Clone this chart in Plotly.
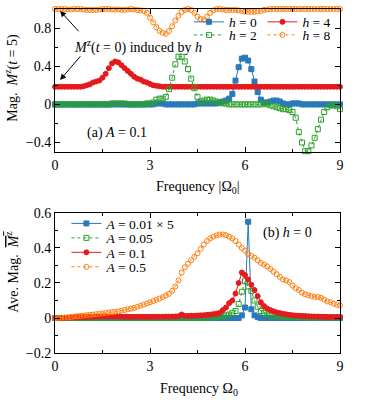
import numpy as np
import plotly.graph_objects as go

# frequency grid (Omega_0), step 0.1
omega = np.round(np.arange(0, 9.05, 0.1), 1)

# (a) A = 0.1, magnetisation M^z(t=5) for different h
mag_h0 = [0.0,0.0,0.0,0.0,0.0,0.0,0.0,0.0,0.0,0.0,
          0.0,0.0,0.0,0.0,0.0,0.0,0.0,0.0,0.0,0.0,
          0.0,0.0,0.0,0.0,0.0,0.0,0.0,0.0,0.0,0.0,
          0.0,0.0,0.01,0.01,0.01,0.0,0.0,0.0,0.0,0.0,
          0.0,0.0,0.0,0.0,0.0,0.01,0.01,0.01,0.01,0.01,
          0.01,0.01,0.02,0.03,0.04,0.06,0.11,0.25,0.39,0.48,
          0.49,0.46,0.37,0.24,0.13,0.05,0.02,0.02,0.03,0.04,
          0.04,0.03,0.01,0.0,0.0,0.01,0.01,0.01,0.0,0.0,
          0.0,0.0,0.0,0.0,0.0,0.0,0.0,0.0,0.0,0.0,0.0]
mag_h2 = [0.0,0.0,0.0,0.0,0.0,0.0,0.0,0.0,0.0,0.0,
          0.0,0.0,0.0,0.0,0.0,0.0,0.0,0.0,0.01,0.01,
          0.01,0.01,0.01,0.0,0.0,0.0,0.0,0.0,0.0,0.01,
          0.01,0.02,0.05,0.06,0.06,0.08,0.16,0.28,0.42,0.50,
          0.50,0.45,0.37,0.27,0.17,0.08,0.03,0.04,0.05,0.05,
          0.04,0.03,0.02,0.01,0.01,0.0,0.0,0.0,0.0,0.0,
          0.0,0.0,0.0,0.0,0.0,0.0,0.01,0.0,-0.01,-0.02,
          -0.03,-0.04,-0.05,-0.05,-0.06,-0.08,-0.14,-0.29,-0.40,-0.49,
          -0.49,-0.43,-0.35,-0.26,-0.16,-0.08,-0.03,-0.01,-0.01,-0.02,-0.05]
mag_h4 = [0.185,0.185,0.185,0.185,0.185,0.185,0.185,0.185,0.185,0.19,
          0.20,0.21,0.23,0.24,0.25,0.28,0.32,0.38,0.43,0.45,
          0.44,0.41,0.38,0.35,0.32,0.29,0.27,0.26,0.24,0.23,
          0.215,0.20,0.195,0.19,0.185,0.185,0.185,0.185,0.185,0.185,
          0.185,0.185,0.185,0.185,0.185,0.185,0.185,0.185,0.185,0.185,
          0.185,0.185,0.185,0.185,0.185,0.185,0.185,0.185,0.185,0.185,
          0.185,0.185,0.185,0.185,0.185,0.185,0.185,0.185,0.185,0.185,
          0.185,0.185,0.185,0.185,0.185,0.185,0.185,0.185,0.185,0.185,
          0.185,0.185,0.185,0.185,0.185,0.185,0.185,0.185,0.185,0.185,0.185]
mag_h8 = [1.0,1.0,1.0,1.0,0.995,0.995,1.0,1.0,1.0,0.995,
          0.99,0.99,0.99,0.99,0.995,1.0,1.0,1.0,0.995,0.995,
          0.995,0.99,0.99,0.995,1.0,0.995,0.99,0.985,0.98,0.96,
          0.91,0.86,0.81,0.77,0.75,0.74,0.77,0.82,0.88,0.93,
          0.97,0.99,1.0,0.99,0.96,0.92,0.895,0.89,0.92,0.96,
          0.985,1.0,1.0,0.995,0.99,0.99,0.99,0.99,0.985,0.98,
          0.975,0.97,0.97,0.97,0.975,0.98,0.99,0.995,1.0,1.0,
          1.0,1.0,1.0,1.0,1.0,1.0,1.0,1.0,1.0,1.0,
          1.0,1.0,1.0,1.0,1.0,1.0,1.0,1.0,1.0,1.0,1.0]

# (b) h = 0, averaged magnetisation for different A
ave_a001 = [0.0]*59 + [0.015,0.06,0.55,0.05,0.015,0.005] + [0.0]*26
ave_a005 = [0.0]*50 + [0.005,0.006,0.008,0.01,0.015,0.02,0.03,0.04,0.08,0.15,
            0.21,0.18,0.155,0.10,0.065,0.04,0.03,0.02,0.015,0.012,
            0.01,0.009,0.008,0.007,0.006,0.005,0.005,0.004,0.004,0.004,
            0.003,0.003,0.003,0.003,0.003,0.003,0.003,0.003,0.003,0.003,0.003]
ave_a01 = [0.0,0.0,0.0,0.0,0.002,0.003,0.004,0.005,0.005,0.006,
           0.006,0.007,0.007,0.008,0.008,0.008,0.008,0.008,0.008,0.008,
           0.008,0.008,0.007,0.007,0.007,0.007,0.007,0.007,0.007,0.007,
           0.007,0.007,0.007,0.007,0.007,0.008,0.008,0.008,0.009,0.01,
           0.02,0.012,0.012,0.013,0.013,0.014,0.015,0.016,0.018,0.02,
           0.022,0.025,0.03,0.045,0.06,0.085,0.10,0.14,0.20,0.26,
           0.245,0.22,0.19,0.16,0.125,0.09,0.068,0.054,0.045,0.038,
           0.032,0.028,0.024,0.021,0.018,0.016,0.014,0.013,0.012,0.011,
           0.01,0.009,0.008,0.008,0.007,0.007,0.006,0.006,0.005,0.005,0.005]
ave_a05 = [0.0,0.0,0.001,0.002,0.003,0.005,0.008,0.01,0.012,0.014,
           0.016,0.018,0.02,0.022,0.024,0.026,0.028,0.031,0.034,0.036,
           0.038,0.042,0.046,0.05,0.053,0.058,0.064,0.07,0.076,0.083,
           0.09,0.097,0.104,0.111,0.119,0.128,0.138,0.155,0.18,0.215,
           0.26,0.29,0.31,0.33,0.35,0.37,0.395,0.42,0.44,0.455,
           0.465,0.472,0.477,0.477,0.473,0.465,0.455,0.44,0.42,0.40,
           0.385,0.365,0.355,0.345,0.33,0.315,0.305,0.295,0.28,0.265,
           0.25,0.235,0.22,0.215,0.205,0.185,0.17,0.16,0.145,0.135,
           0.13,0.125,0.12,0.12,0.115,0.105,0.095,0.09,0.082,0.076,0.072]

bot_yticks = [-0.2, 0, 0.2, 0.4, 0.6]
bot_yticktext = ['−0.2', '0', '0.2', '0.4', '0.6']
xticks = [0, 3, 6, 9]

blue = '#2a7ab9'
green = '#2ca02c'
red = '#e41a1c'
orange = '#ff7f0e'
FONT = 'Liberation Serif'

fig = go.Figure()

top = [
    (mag_h0, '<i>h</i> = 0', blue, 'square', 'solid', 'legend'),
    (mag_h4, '<i>h</i> = 4', red, 'circle', 'solid', 'legend2'),
    (mag_h2, '<i>h</i> = 2', green, 'square-open', 'dot', 'legend3'),
    (mag_h8, '<i>h</i> = 8', orange, 'circle-open', 'dot', 'legend4'),
]
for vals, name, col, sym, dash, leg in top:
    fig.add_trace(go.Scatter(x=omega, y=vals, name=name, mode='lines+markers',
                             line=dict(color=col, width=1, dash=dash),
                             marker=dict(symbol=sym, size=5, color=col, line=dict(color=col, width=1)),
                             cliponaxis=False, legend=leg, xaxis='x', yaxis='y'))

bottom = [
    (ave_a001, '<i>A</i> = 0.01 × 5', blue, 'square', 'solid', 'legend5'),
    (ave_a005, '<i>A</i> = 0.05', green, 'square-open', 'dot', 'legend6'),
    (ave_a01, '<i>A</i> = 0.1', red, 'circle', 'solid', 'legend7'),
    (ave_a05, '<i>A</i> = 0.5', orange, 'circle-open', 'dot', 'legend8'),
]
for vals, name, col, sym, dash, leg in bottom:
    fig.add_trace(go.Scatter(x=omega, y=vals, name=name, mode='lines+markers',
                             line=dict(color=col, width=1, dash=dash),
                             marker=dict(symbol=sym, size=5, color=col, line=dict(color=col, width=1)),
                             cliponaxis=False, legend=leg, xaxis='x2', yaxis='y2'))

ax = dict(showgrid=False, zeroline=False, showline=True, linecolor='black', linewidth=1,
          mirror='ticks', ticks='inside', ticklen=5, tickcolor='black', automargin=False,
          tickfont=dict(family=FONT, size=14, color='black'))


def minor(step):
    return dict(tickmode='linear', tick0=0, dtick=step, ticks='inside', ticklen=3, tickcolor='black')


fig.update_layout(
    width=374, height=400,
    margin=dict(l=55, r=34, t=9, b=47, autoexpand=False),
    showlegend=True,
    plot_bgcolor='white', paper_bgcolor='white',
    font=dict(family=FONT, size=14, color='black'),
    separators='.',
    xaxis=dict(ax, domain=[0, 1], range=[0, 9], tickmode='array', tickvals=xticks, anchor='y',
               minor=minor(1.5)),
    yaxis=dict(ax, domain=[0.584, 1], range=[-0.5, 1.0], tickmode='linear', tick0=0, dtick=0.4,
               anchor='x', minor=minor(0.2)),
    xaxis2=dict(ax, domain=[0, 1], range=[0, 9], tickmode='array', tickvals=xticks, anchor='y2',
                minor=minor(1.5)),
    yaxis2=dict(ax, domain=[0, 0.407], range=[-0.2, 0.6], tickmode='array', tickvals=bot_yticks,
                ticktext=bot_yticktext, anchor='x2', minor=minor(0.1)),
)

leg = dict(bgcolor='rgba(0,0,0,0)', borderwidth=0, font=dict(family=FONT, size=13.5),
           xanchor='left', yanchor='middle', itemclick=False)
fig.update_layout(
    legend=dict(leg, x=0.47, y=0.962),
    legend2=dict(leg, x=0.728, y=0.962),
    legend3=dict(leg, x=0.47, y=0.924),
    legend4=dict(leg, x=0.728, y=0.924),
    legend5=dict(leg, x=0.04, y=0.376),
    legend6=dict(leg, x=0.04, y=0.334),
    legend7=dict(leg, x=0.04, y=0.292),
    legend8=dict(leg, x=0.04, y=0.250),
)

ann = dict(showarrow=False, font=dict(family=FONT, size=14, color='black'))
fig.add_annotation(ann, text='Frequency |Ω<sub>0</sub>|', xref='x domain', yref='y domain',
                   x=0.5, y=-0.245, xanchor='center', yanchor='middle')
fig.add_annotation(ann, text='Mag.  <i>M</i><sup>z</sup>(<i>t</i> = 5)', xref='x domain', yref='y domain',
                   x=-0.151, y=0.52, xanchor='center', yanchor='middle', textangle=-90)
fig.add_annotation(ann, text='Frequency Ω<sub>0</sub>', xref='x2 domain', yref='y2 domain',
                   x=0.505, y=-0.264, xanchor='center', yanchor='middle')
fig.add_annotation(ann, text='Ave. Mag.  <span style="text-decoration:overline"><i>M</i><sup>z</sup></span>',
                   xref='x2 domain', yref='y2 domain',
                   x=-0.151, y=0.58, xanchor='center', yanchor='middle', textangle=-90)
fig.add_annotation(ann, text='(a) <i>A</i> = 0.1', xref='x', yref='y', x=0.95, y=-0.3,
                   xanchor='left', yanchor='middle')
fig.add_annotation(ann, text='(b) <i>h</i> = 0', xref='x2', yref='y2', x=6.52, y=0.487,
                   xanchor='left', yanchor='middle')
fig.add_annotation(ann, text='<i>M</i><sup>z</sup>(<i>t</i> = 0) induced by <i>h</i>', xref='x', yref='y',
                   x=0.55, y=0.61, xanchor='left', yanchor='middle')
# arrows pointing at the initial values
fig.add_annotation(x=0.16, y=0.98, ax=0.79, ay=0.75, xref='x', yref='y', axref='x', ayref='y',
                   showarrow=True, arrowhead=2, arrowsize=1.2, arrowwidth=1, arrowcolor='black', text='')
fig.add_annotation(x=0.16, y=0.255, ax=0.84, ay=0.52, xref='x', yref='y', axref='x', ayref='y',
                   showarrow=True, arrowhead=2, arrowsize=1.2, arrowwidth=1, arrowcolor='black', text='')

# the default page body has an 8px margin; drop it so the figure fills the window
fig.write_html("out.html", config={'displayModeBar': False},
               post_script="document.body.style.margin = '0';")
